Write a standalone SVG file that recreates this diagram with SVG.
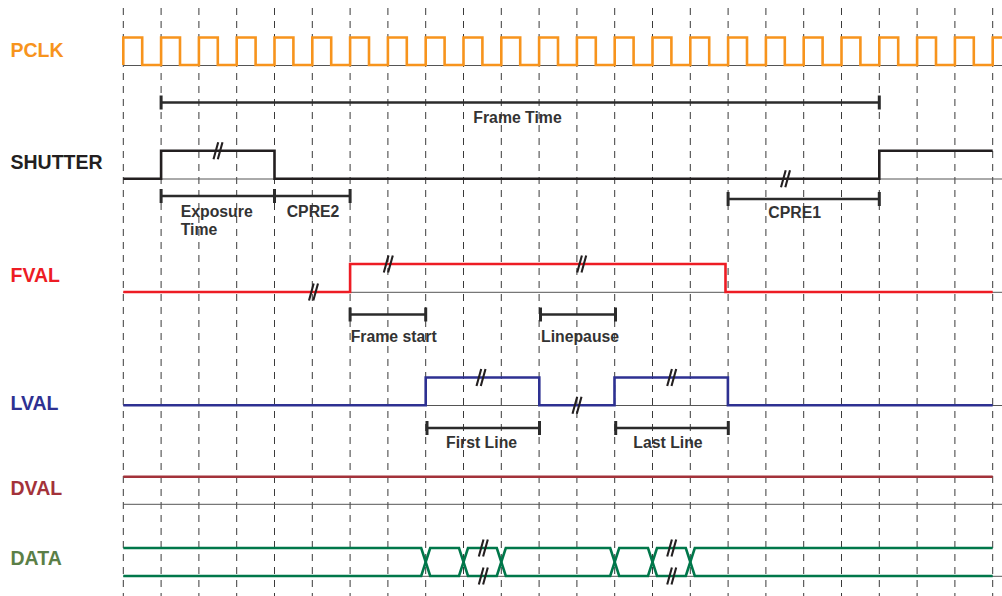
<svg xmlns="http://www.w3.org/2000/svg" xmlns:xlink="http://www.w3.org/1999/xlink" width="1002" height="596" viewBox="0 0 1002 596">
<style>
.grid{stroke:#3a3a3a;stroke-width:1;stroke-dasharray:7 6;fill:none}
.base{stroke:#555;stroke-width:1;fill:none}
.sig{fill:none;stroke-width:2.6;stroke-linejoin:miter;stroke-linecap:butt}
.bar{stroke:#2b2b2b;stroke-width:2.6;fill:none}
.tick{stroke:#2b2b2b;stroke-width:3;fill:none}
.brk{stroke:#231F20;stroke-width:2.1;fill:none}
.lab{font-family:"Liberation Sans",Arial,sans-serif;font-weight:bold;font-size:19.5px}
.small{font-family:"Liberation Sans",Arial,sans-serif;font-weight:bold;font-size:15.8px;fill:#333}
</style>
<defs>
<path id="brk" class="brk" d="M-4.5,8.5 L0.2,-8.5 M-0.2,8.5 L4.5,-8.5"/>
<path id="tk" class="tick" d="M0,-7 V7"/>
</defs>
<rect width="1002" height="596" fill="#fff"/>
<g id="grid">
<line class="grid" x1="123.3" y1="8" x2="123.3" y2="596"/>
<line class="grid" x1="161.1" y1="8" x2="161.1" y2="596"/>
<line class="grid" x1="198.9" y1="8" x2="198.9" y2="596"/>
<line class="grid" x1="236.7" y1="8" x2="236.7" y2="596"/>
<line class="grid" x1="274.5" y1="8" x2="274.5" y2="596"/>
<line class="grid" x1="312.3" y1="8" x2="312.3" y2="596"/>
<line class="grid" x1="350.1" y1="8" x2="350.1" y2="596"/>
<line class="grid" x1="387.9" y1="8" x2="387.9" y2="596"/>
<line class="grid" x1="425.7" y1="8" x2="425.7" y2="596"/>
<line class="grid" x1="463.5" y1="8" x2="463.5" y2="596"/>
<line class="grid" x1="501.3" y1="8" x2="501.3" y2="596"/>
<line class="grid" x1="539.1" y1="8" x2="539.1" y2="596"/>
<line class="grid" x1="576.9" y1="8" x2="576.9" y2="596"/>
<line class="grid" x1="614.7" y1="8" x2="614.7" y2="596"/>
<line class="grid" x1="652.5" y1="8" x2="652.5" y2="596"/>
<line class="grid" x1="690.3" y1="8" x2="690.3" y2="596"/>
<line class="grid" x1="728.1" y1="8" x2="728.1" y2="596"/>
<line class="grid" x1="765.9" y1="8" x2="765.9" y2="596"/>
<line class="grid" x1="803.7" y1="8" x2="803.7" y2="596"/>
<line class="grid" x1="841.5" y1="8" x2="841.5" y2="596"/>
<line class="grid" x1="879.3" y1="8" x2="879.3" y2="596"/>
<line class="grid" x1="917.1" y1="8" x2="917.1" y2="596"/>
<line class="grid" x1="954.9" y1="8" x2="954.9" y2="596"/>
<line class="grid" x1="992.7" y1="8" x2="992.7" y2="596"/>
</g>

<g id="pclk">
<line class="base" x1="123.3" y1="65.5" x2="1002" y2="65.5"/>
<path class="sig" stroke="#F7941D" d="M123.3 65v-27.5h18.9v27.5h18.9v-27.5h18.9v27.5h18.9v-27.5h18.9v27.5h18.9v-27.5h18.9v27.5h18.9v-27.5h18.9v27.5h18.9v-27.5h18.9v27.5h18.9v-27.5h18.9v27.5h18.9v-27.5h18.9v27.5h18.9v-27.5h18.9v27.5h18.9v-27.5h18.9v27.5h18.9v-27.5h18.9v27.5h18.9v-27.5h18.9v27.5h18.9v-27.5h18.9v27.5h18.9v-27.5h18.9v27.5h18.9v-27.5h18.9v27.5h18.9v-27.5h18.9v27.5h18.9v-27.5h18.9v27.5h18.9v-27.5h18.9v27.5h18.9v-27.5h18.9v27.5h18.9v-27.5h18.9v27.5h18.9v-27.5h18.9v27.5h18.9v-27.5h18.9v27.5h18.9v-27.5h18.9v27.5h18.9v-27.5h18.9v27.5h18.9"/>
<text class="lab" x="10.5" y="56.5" fill="#F7941D">PCLK</text>
</g>

<g id="frame-time">
<line class="bar" x1="161.1" y1="102.5" x2="879.3" y2="102.5"/>
<use xlink:href="#tk" x="161.1" y="102.5"/>
<use xlink:href="#tk" x="879.3" y="102.5"/>
<text class="small" x="473.3" y="123">Frame Time</text>
</g>

<g id="shutter">
<line class="base" x1="123.3" y1="179" x2="1002" y2="179"/>
<path class="sig" stroke="#231F20" d="M123.3 178.7H161.1V150.7H274.5V178.7H879.3V150.7H992.7"/>
<use xlink:href="#brk" x="218" y="150.7"/>
<use xlink:href="#brk" x="785.5" y="178.7"/>
<text class="lab" x="10.5" y="169.3" fill="#231F20">SHUTTER</text>
</g>

<g id="exposure">
<path class="bar" d="M161.1 196H350.1"/>
<use xlink:href="#tk" x="161.1" y="196"/>
<use xlink:href="#tk" x="274.5" y="196"/>
<use xlink:href="#tk" x="350.1" y="196"/>
<text class="small" x="180.7" y="216.7">Exposure</text>
<text class="small" x="180.7" y="235">Time</text>
<text class="small" x="286.7" y="216.7">CPRE2</text>
</g>

<g id="cpre1">
<line class="bar" x1="728.1" y1="199" x2="879.3" y2="199"/>
<use xlink:href="#tk" x="728.1" y="199"/>
<use xlink:href="#tk" x="879.3" y="199"/>
<text class="small" x="768.3" y="218">CPRE1</text>
</g>

<g id="fval">
<line class="base" x1="123.3" y1="292.3" x2="1002" y2="292.3"/>
<path class="sig" stroke="#ED1C24" d="M123.3 292H350.1V264H725.5V292H992.7"/>
<use xlink:href="#brk" x="313.5" y="292"/>
<use xlink:href="#brk" x="388.3" y="264"/>
<use xlink:href="#brk" x="581.7" y="264"/>
<text class="lab" x="10.5" y="281.7" fill="#ED1C24">FVAL</text>
</g>

<g id="frame-start">
<line class="bar" x1="350.1" y1="314.5" x2="425.7" y2="314.5"/>
<use xlink:href="#tk" x="350.1" y="314.5"/>
<use xlink:href="#tk" x="425.7" y="314.5"/>
<text class="small" x="350.7" y="341.7">Frame start</text>
</g>

<g id="linepause">
<line class="bar" x1="540.5" y1="314.5" x2="615.5" y2="314.5"/>
<use xlink:href="#tk" x="540.5" y="314.5"/>
<use xlink:href="#tk" x="615.5" y="314.5"/>
<text class="small" x="541" y="341.7">Linepause</text>
</g>

<g id="lval">
<line class="base" x1="123.3" y1="405.5" x2="1002" y2="405.5"/>
<path class="sig" stroke="#2E3192" d="M123.3 405.2H425.7V377.5H539.3V405.2H614.5V377.5H727.9V405.2H992.7"/>
<use xlink:href="#brk" x="481" y="377.5"/>
<use xlink:href="#brk" x="577" y="405.2"/>
<use xlink:href="#brk" x="671.7" y="377.5"/>
<text class="lab" x="10.5" y="410" fill="#2E3192">LVAL</text>
</g>

<g id="first-line">
<line class="bar" x1="427" y1="428" x2="539.5" y2="428"/>
<use xlink:href="#tk" x="427" y="428"/>
<use xlink:href="#tk" x="539.5" y="428"/>
<text class="small" x="446" y="448.3">First Line</text>
</g>

<g id="last-line">
<line class="bar" x1="615.7" y1="428" x2="728.3" y2="428"/>
<use xlink:href="#tk" x="615.7" y="428"/>
<use xlink:href="#tk" x="728.3" y="428"/>
<text class="small" x="633.3" y="448.3">Last Line</text>
</g>

<g id="dval">
<line class="base" x1="123.3" y1="504.3" x2="1002" y2="504.3"/>
<line class="sig" stroke="#A3323A" x1="123.3" y1="476.7" x2="992.7" y2="476.7"/>
<text class="lab" x="10.5" y="495" fill="#A3323A">DVAL</text>
</g>

<g id="data">
<line class="base" x1="123.3" y1="576.3" x2="1002" y2="576.3"/>
<path class="sig" stroke="#00774A" d="M123.3 548H421.2L430.2 576H459L468 548H496.8L505.8 576H610.2L619.2 548H648L657 576H685.8L694.8 548H992.7"/>
<path class="sig" stroke="#00774A" d="M123.3 576H421.2L430.2 548H459L468 576H496.8L505.8 548H610.2L619.2 576H648L657 548H685.8L694.8 576H992.7"/>
<use xlink:href="#brk" x="483.3" y="548"/>
<use xlink:href="#brk" x="483.3" y="576"/>
<use xlink:href="#brk" x="671.7" y="548"/>
<use xlink:href="#brk" x="671.7" y="576"/>
<text class="lab" x="10.5" y="565" fill="#5B7F47">DATA</text>
</g>

<g id="connectors"></g>
</svg>
